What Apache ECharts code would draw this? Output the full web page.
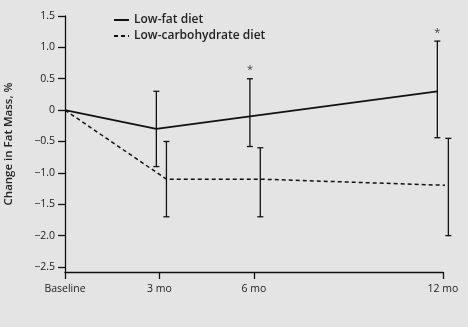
<!DOCTYPE html>
<html><head><meta charset="utf-8">
<script src="https://cdn.jsdelivr.net/npm/echarts@6/dist/echarts.min.js"></script>
<style>html,body{margin:0;padding:0;background:#e4e4e4;}#c{width:468px;height:327px;}</style>
</head><body><div id="c"></div>
<script>
// Data
const xTickMonths = [0, 3, 6, 12];
const xTickLabels = ['Baseline', '3 mo', '6 mo', '12 mo'];
const yTicks = [-2.5, -2.0, -1.5, -1.0, -0.5, 0, 0.5, 1.0, 1.5];
const seriesNames = ['Low-fat diet', 'Low-carbohydrate diet'];
// x positions (months) of plotted points; slightly offset in the original to separate error bars
const lowFatX = [0, 2.9, 5.87, 11.82];
const lowFatMean = [0, -0.3, -0.1, 0.3];
const lowFatLow = [null, -0.9, -0.58, -0.44];
const lowFatHigh = [null, 0.3, 0.5, 1.1];
const lowFatStar = [false, false, true, true];
const lowCarbX = [0, 3.22, 6.2, 12.17];
const lowCarbMean = [0, -1.1, -1.1, -1.2];
const lowCarbLow = [null, -1.7, -1.7, -2.0];
const lowCarbHigh = [null, -0.5, -0.6, -0.45];

const chart = echarts.init(document.getElementById('c'));
const font = 'Open Sans, DejaVu Sans, sans-serif';

function pts(xs, ys) { return xs.map((x, i) => [x, ys[i]]); }
function errData(xs, lo, hi, star) {
  const out = [];
  xs.forEach((x, i) => { if (lo[i] != null) out.push([x, lo[i], hi[i], star && star[i] ? 1 : 0]); });
  return out;
}
function renderErr(params, api) {
  const x = api.value(0);
  const top = api.coord([x, api.value(2)]);
  const bot = api.coord([x, api.value(1)]);
  const cw = 3;
  const st = { stroke: '#111', lineWidth: 1.3 };
  const children = [
    { type: 'line', shape: { x1: top[0], y1: top[1], x2: bot[0], y2: bot[1] }, style: st },
    { type: 'line', shape: { x1: top[0] - cw, y1: top[1], x2: top[0] + cw, y2: top[1] }, style: st },
    { type: 'line', shape: { x1: bot[0] - cw, y1: bot[1], x2: bot[0] + cw, y2: bot[1] }, style: st }
  ];
  if (api.value(3) === 1) {
    children.push({ type: 'text', style: { text: '*', x: top[0], y: top[1] - 3, align: 'center', verticalAlign: 'bottom', fill: '#444', font: '11px ' + font } });
  }
  return { type: 'group', children };
}

chart.setOption({
  backgroundColor: '#e4e4e4',
  animation: false,
  grid: { left: 65, right: 25, top: 16, bottom: 55, containLabel: false, outerBoundsMode: 'none' },
  legend: {
    orient: 'vertical', left: 113, top: 14, padding: 0, itemWidth: 15, itemHeight: 8, itemGap: 4,
    itemStyle: { opacity: 0 },
    textStyle: { fontFamily: font, fontSize: 12, fontWeight: 600, color: '#222' },
    data: seriesNames
  },
  xAxis: {
    type: 'value', min: 0, max: 12,
    axisLine: { onZero: false, lineStyle: { color: '#111', width: 1.3 } },
    axisTick: { show: true, length: 7, lineStyle: { color: '#111', width: 1.3 }, customValues: xTickMonths },
    axisLabel: {
      customValues: xTickMonths, margin: 12,
      formatter: v => xTickLabels[xTickMonths.indexOf(v)],
      fontFamily: font, fontSize: 10.5, fontWeight: 500, color: '#1a1a1a'
    },
    splitLine: { show: false }
  },
  yAxis: {
    type: 'value', min: -2.58, max: 1.5,
    name: 'Change in Fat Mass, %', nameLocation: 'middle', nameGap: 50, nameRotate: 90,
    nameTextStyle: { fontFamily: font, fontSize: 11.5, fontWeight: 600, color: '#222' },
    axisLine: { show: true, onZero: false, lineStyle: { color: '#111', width: 1.3 } },
    axisTick: { show: true, length: 7, lineStyle: { color: '#111', width: 1.3 }, customValues: yTicks },
    axisLabel: {
      customValues: yTicks, margin: 10,
      formatter: v => v === 0 ? '0' : (v < 0 ? '\u2212' + Math.abs(v).toFixed(1) : v.toFixed(1)),
      fontFamily: font, fontSize: 10.5, fontWeight: 500, color: '#1a1a1a'
    },
    splitLine: { show: false }
  },
  series: [
    { name: seriesNames[0], type: 'line', data: pts(lowFatX, lowFatMean), symbol: 'none',
      lineStyle: { color: '#111', width: 1.8, type: 'solid' }, itemStyle: { color: '#111' }, z: 3 },
    { name: seriesNames[1], type: 'line', data: pts(lowCarbX, lowCarbMean), symbol: 'none',
      lineStyle: { color: '#111', width: 1.5, type: [4, 3] }, itemStyle: { color: '#111' }, z: 3 },
    { type: 'custom', data: errData(lowFatX, lowFatLow, lowFatHigh, lowFatStar), renderItem: renderErr, z: 4 },
    { type: 'custom', data: errData(lowCarbX, lowCarbLow, lowCarbHigh, null), renderItem: renderErr, z: 4 }
  ]
});
</script></body></html>
